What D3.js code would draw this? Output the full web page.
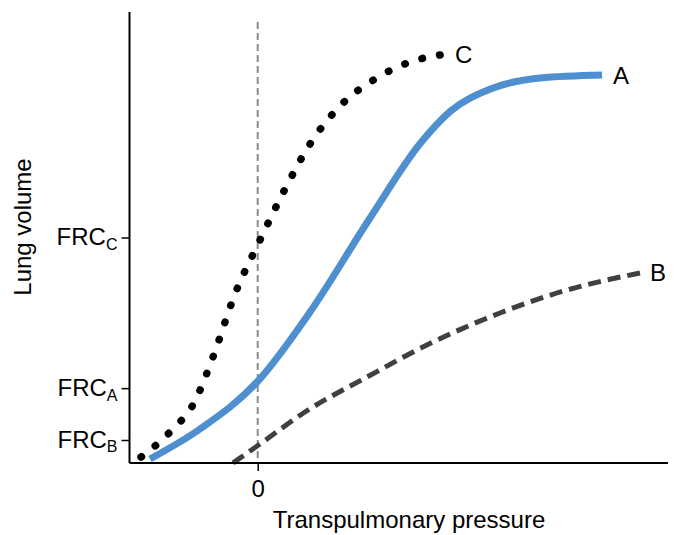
<!DOCTYPE html>
<html>
<head>
<meta charset="utf-8">
<script src="https://cdn.jsdelivr.net/npm/d3@7"></script>
<style>
  html, body { margin: 0; padding: 0; background: #fff; }
  svg { display: block; }
  text { font-family: "Liberation Sans", Arial, Helvetica, sans-serif; fill: #000; }
</style>
</head>
<body>
<svg id="chart" width="678" height="535"></svg>
<script>
// ---- Data ----
// Curve A: solid blue
const curveAX = [-8.40, -4.50, -0.05, 4.08, 8.76, 12.70, 15.05, 18.15, 22.02, 26.86];
const curveAY = [0.89, 7.54, 17.96, 33.48, 54.32, 70.95, 78.05, 82.93, 85.37, 86.03];
// Curve B: dashed dark grey
const curveBX = [-1.93, 0.18, 3.69, 8.53, 13.67, 18.90, 24.13, 29.82];
const curveBY = [0.0, 4.21, 11.31, 19.07, 26.83, 33.26, 38.36, 42.13];
// Curve C: dotted black
const curveCX = [-9.10, -6.84, -4.89, -3.49, -1.77, 0.18, 2.13, 4.08, 6.42, 9.15, 11.88, 14.22];
const curveCY = [1.33, 6.87, 13.75, 23.50, 37.47, 49.45, 60.75, 70.73, 79.16, 85.14, 88.91, 90.47];

const curveNames = ["A", "B", "C"];
const frcValues = [50, 16.6, 5.1];
const frcSubs = ["C", "A", "B"];
const xTickValues = [0];
const xTickLabels = ["0"];
const xTitle = "Transpulmonary pressure";
const yTitle = "Lung volume";

// ---- Layout ----
const svg = d3.select("#chart");
const x = d3.scaleLinear().domain([-10, 32]).range([129.5, 668]);
const y = d3.scaleLinear().domain([0, 100]).range([463, 12]);

// Vertical dashed reference at x = 0
svg.append("line")
  .attr("x1", x(0)).attr("x2", x(0))
  .attr("y1", y(97.8)).attr("y2", y(0))
  .attr("stroke", "#8a8a8a").attr("stroke-width", 2)
  .attr("stroke-dasharray", "7,4");

const line = d3.line().x(d => x(d[0])).y(d => y(d[1])).curve(d3.curveMonotoneX);
const zip = (a, b) => a.map((v, i) => [v, b[i]]);
const dataA = zip(curveAX, curveAY);
const dataB = zip(curveBX, curveBY);
const dataC = zip(curveCX, curveCY);

svg.append("path").datum(dataB).attr("d", line)
  .attr("fill", "none").attr("stroke", "#404040").attr("stroke-width", 5)
  .attr("stroke-dasharray", "13,7");

svg.append("path").datum(dataA).attr("d", line)
  .attr("fill", "none").attr("stroke", "#4e8fd0").attr("stroke-width", 7)
  .attr("stroke-linecap", "butt");

const pathC = svg.append("path").datum(dataC).attr("d", line)
  .attr("fill", "none").attr("stroke", "#000").attr("stroke-width", 7.5)
  .attr("stroke-linecap", "round");
const LC = pathC.node().getTotalLength();
const nC = Math.round(LC / 18);
const periodC = (LC - 0.5) / nC;
pathC.attr("stroke-dasharray", `0.5,${periodC - 0.5}`);

// Curve labels
const ends = [dataA[dataA.length - 1], dataB[dataB.length - 1], dataC[dataC.length - 1]];
const offs = [[11, 9], [10, 8], [15, 8]];
svg.selectAll("text.clabel").data(curveNames).enter().append("text")
  .attr("class", "clabel")
  .attr("x", (d, i) => x(ends[i][0]) + offs[i][0])
  .attr("y", (d, i) => y(ends[i][1]) + offs[i][1])
  .attr("font-size", 24)
  .text(d => d);

// Axes
const yAxis = d3.axisLeft(y).tickValues(frcValues).tickSize(8).tickPadding(4).tickFormat(() => "");
const gy = svg.append("g").attr("transform", `translate(${x(-10)},0)`).call(yAxis);
gy.select(".domain").attr("d", `M0,${y(100)}V${y(0)}`).attr("stroke-width", 2);
gy.selectAll(".tick line").attr("stroke-width", 1.5);
gy.selectAll(".tick text").each(function(d, i) {
  const t = d3.select(this).attr("font-size", 24).attr("font-family", null).attr("dy", "0.3em");
  t.append("tspan").text("FRC");
  t.append("tspan").attr("font-size", 16).attr("dy", "0.3em").text(frcSubs[i]);
});

const xAxis = d3.axisBottom(x).tickValues(xTickValues).tickSize(8).tickPadding(9)
  .tickFormat((d, i) => xTickLabels[i]);
const gx = svg.append("g").attr("transform", `translate(0,${y(0)})`).call(xAxis);
gx.select(".domain").attr("d", `M${x(-10)},0H${x(32)}`).attr("stroke-width", 2);
gx.selectAll(".tick line").attr("stroke-width", 1.5);
gx.selectAll(".tick text").attr("font-size", 24).attr("font-family", null);

// Titles
svg.append("text").attr("x", 409).attr("y", 528).attr("text-anchor", "middle")
  .attr("font-size", 24).text(xTitle);
svg.append("text").attr("transform", "translate(31,227) rotate(-90)")
  .attr("text-anchor", "middle").attr("font-size", 24).text(yTitle);
</script>
</body>
</html>
